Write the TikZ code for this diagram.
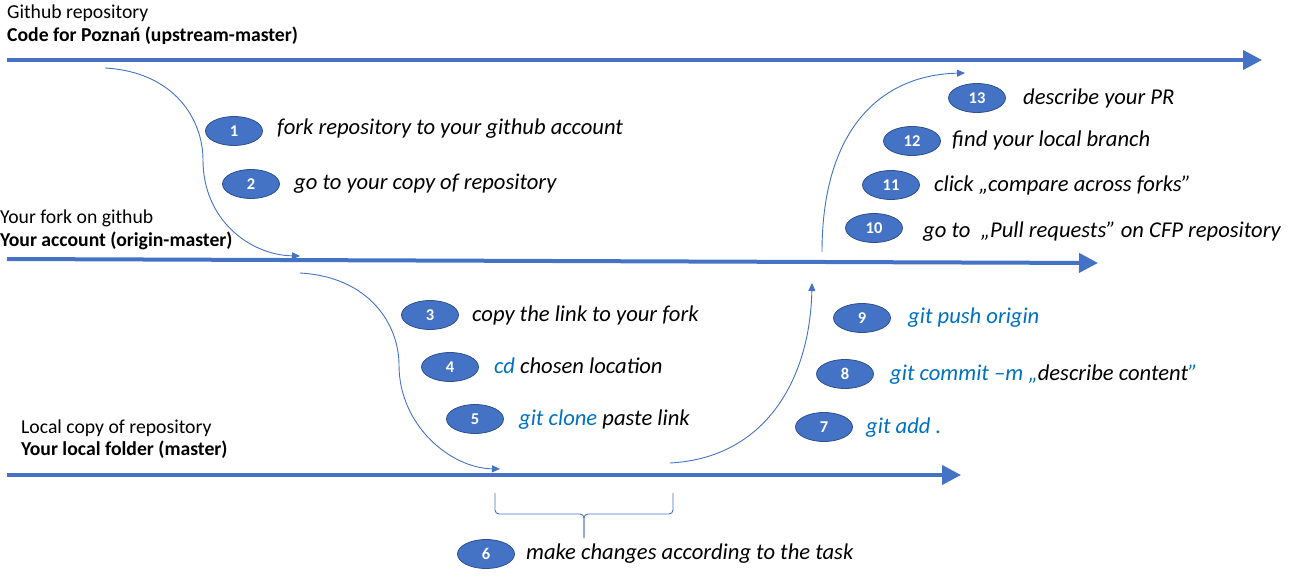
\documentclass[tikz,border=0pt]{standalone}
\usepackage{fontspec}
\setmainfont{Carlito}
\usetikzlibrary{calc,arrows.meta,shapes.geometric,positioning}
\definecolor{lineblue}{HTML}{4472C4}
\definecolor{stepedge}{HTML}{2F528F}
\definecolor{gitblue}{HTML}{0070C0}

\begin{document}
\begin{tikzpicture} [x=1pt,y=-1pt,{branch/.style={line width=4pt,color=lineblue,-{Triangle[length=19pt,width=19pt]}}},{flow/.style={color=lineblue,line width=0.9pt,-{Triangle[length=8pt,width=7pt]}}},{stepnum/.style={ellipse,draw=stepedge,fill=lineblue,line width=0.8pt,minimum width=57pt,minimum height=29pt,inner sep=0pt,text=white,font=\bfseries\fontsize{16.5}{16.5}\selectfont}},{steptext/.style={anchor=base west,inner sep=0pt,font=\itshape\fontsize{22.6}{22.6}\selectfont}},{head/.style={anchor=base west,inner sep=0pt,font=\fontsize{19.7}{19.7}\selectfont}}]
	\useasboundingbox (0,0) rectangle (1290,580);
	%%ends of the three branches
	\coordinate (U0) at (7,60);
	\coordinate (U1) at (1262,60);
	\coordinate (O0) at (7,259);
	\coordinate (O1) at (1098,263);
	\coordinate (L0) at (7,475);
	\coordinate (L1) at (961,475);
	%%branches
	\draw [branch] (U0) -- (U1);
	\draw [branch] (O0) -- (O1);
	\draw [branch] (L0) -- (L1);
	%%branch titles
	\node [head] (uptitle) at (7,19) {Github repository};
	\node [head,font=\bfseries\fontsize{19.7}{19.7}\selectfont] (upname) at (7,42) {Code for Poznań (upstream-master)};
	\node [head] (origtitle) at (0,223) {Your fork on github};
	\node [head,font=\bfseries\fontsize{19.7}{19.7}\selectfont] (origname) at (0,246) {Your account (origin-master)};
	\node [head] (loctitle) at (21,433) {Local copy of repository};
	\node [head,font=\bfseries\fontsize{19.7}{19.7}\selectfont] (locname) at (21,455) {Your local folder (master)};
	%%ends of the curved moves
	\coordinate (forkA) at (105,68);
	\coordinate (forkB) at (300,256);
	\coordinate (cloneA) at (300,273);
	\coordinate (cloneB) at (500,469);
	\coordinate (pushA) at (670,463);
	\coordinate (pushB) at (812,283);
	\coordinate (prA) at (822,252);
	\coordinate (prB) at (965,73);
	%%moves
	\draw [flow] (forkA) .. controls ($(forkA)+(70,4)$) and (203,120) .. (203,160) .. controls (203,220) and (250,255) .. (forkB);
	\draw [flow] (cloneA) .. controls ($(cloneA)+(70,4)$) and (399,325) .. (399,365) .. controls (399,425) and (450,468) .. (cloneB);
	\draw [flow] (pushA) .. controls (765,458) and (810,380) .. (pushB);
	\draw [flow] (prA) .. controls (822,130) and (880,75) .. (prB);
	%%brace under the local work
	\coordinate (BL) at (495,493);
	\coordinate (BR) at (673,493);
	\coordinate (BM) at (584,514);
	\coordinate (BT) at (584,538);
	\draw [color=lineblue,line width=0.9pt,rounded corners=4pt] (BL) |- (BM) -- (BT);
	\draw [color=lineblue,line width=0.9pt,rounded corners=4pt] (BR) |- (BM) -- (BT);
	%%steps
	\node [stepnum] (s1) at (234,131) {1};
	\node [stepnum] (s2) at (251,184) {2};
	\node [stepnum] (s3) at (430,315) {3};
	\node [stepnum] (s4) at (450,367) {4};
	\node [stepnum] (s5) at (475,419) {5};
	\node [stepnum] (s6) at (486,554) {6};
	\node [stepnum] (s7) at (824,427) {7};
	\node [stepnum] (s8) at (845,374) {8};
	\node [stepnum] (s9) at (862,318) {9};
	\node [stepnum] (s10) at (874,228) {10};
	\node [stepnum] (s11) at (891,185) {11};
	\node [stepnum] (s12) at (912,141) {12};
	\node [stepnum] (s13) at (977,98) {13};
	%%step texts
	\node [steptext] (t1) at (277,135) {fork repository to your github account};
	\node [steptext] (t2) at (294,190) {go to your copy of repository};
	\node [steptext] (t3) at (472,321) {copy the link to your fork};
	\node [steptext] (t4) at (494,373) {\textcolor{gitblue}{cd} chosen location};
	\node [steptext] (t5) at (519,425) {\textcolor{gitblue}{git clone} paste link};
	\node [steptext] (t6) at (526,559) {make changes according to the task};
	\node [steptext,text=gitblue] (t7) at (866,433) {git add .};
	\node [steptext] (t8) at (890,380) {\textcolor{gitblue}{git commit –m „}describe content\textcolor{gitblue}{”}};
	\node [steptext,text=gitblue] (t9) at (908,323) {git push origin};
	\node [steptext] (t10) at (923,237) {go to\ \ „Pull requests” on CFP repository};
	\node [steptext] (t11) at (934,192) {click „compare across forks”};
	\node [steptext] (t12) at (952,147) {find your local branch};
	\node [steptext] (t13) at (1023,105) {describe your PR};
\end{tikzpicture}
\end{document}
